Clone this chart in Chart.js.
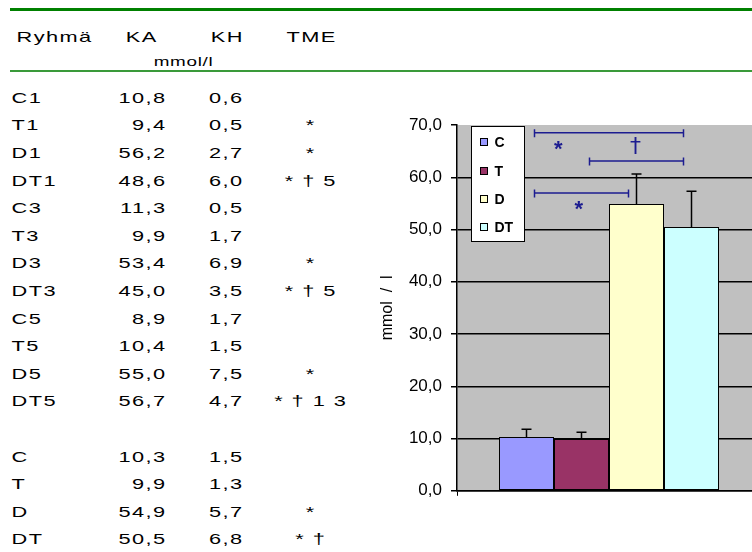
<!DOCTYPE html>
<html lang="fi">
<head>
<meta charset="UTF-8">
<title>KA ja KH ryhmittäin</title>
<script src="https://cdn.jsdelivr.net/npm/chart.js"></script>
<style>
    html, body {
        margin: 0;
        padding: 0;
        width: 752px;
        height: 552px;
        overflow: hidden;
        background: #fff;
    }
    body {
        position: relative;
        font-family: "Liberation Sans", Arial, sans-serif;
        color: #000;
    }
    .rule {
        position: absolute;
        left: 10px;
        width: 742px;
    }
    #rule1 { top: 8px; height: 3px; background: #008000; }
    #rule2 { top: 69.5px; height: 2px; background: #3a9a3a; }
    /* taulukko piirretään leveämmäksi kuin fontti on */
    #tbl {
        position: absolute;
        left: 0;
        top: 0;
        width: 260px;
        height: 552px;
        transform: scaleX(1.45);
        transform-origin: 0 0;
    }
    .cell {
        position: absolute;
        font-size: 15px;
        line-height: 20px;
        letter-spacing: 1px;
        white-space: pre;
    }
    .r { text-align: right; }
    .c { text-align: center; }
    #chart {
        position: absolute;
        left: 380px;
        top: 100px;
    }
</style>
</head>
<body>
<div class="rule" id="rule1"></div>
<div class="rule" id="rule2"></div>
<div id="tbl"></div>
<canvas id="chart" width="400" height="410"></canvas>

<script>
    // taulukon rivit
    const groups = ['C1', 'T1', 'D1', 'DT1', 'C3', 'T3', 'D3', 'DT3', 'C5', 'T5', 'D5', 'DT5'];
    const groupKA = [10.8, 9.4, 56.2, 48.6, 11.3, 9.9, 53.4, 45.0, 8.9, 10.4, 55.0, 56.7];
    const groupKH = [0.6, 0.5, 2.7, 6.0, 0.5, 1.7, 6.9, 3.5, 1.7, 1.5, 7.5, 4.7];
    const groupTME = ['', '*', '*', '* † 5', '', '', '*', '* † 5', '', '', '*', '* † 1 3'];

    // yhteenveto = pylväät
    const categories = ['C', 'T', 'D', 'DT'];
    const meanKA = [10.3, 9.9, 54.9, 50.5];
    const sdKH = [1.5, 1.3, 5.7, 6.8];
    const summaryTME = ['', '', '*', '* †'];
    const barColors = ['#9999FF', '#993366', '#FFFFCC', '#CCFFFF'];

    const yMin = 0;
    const yMax = 70;
    const yStep = 10;

    // merkitsevyyssulut: mistä pylväästä mihin, korkeus (mmol/l), merkki
    const bracketFrom = [0, 1, 0];
    const bracketTo = [3, 3, 2];
    const bracketLevel = [68.5, 63.1, 57.0];
    const bracketMark = ['*', '†', '*'];

    function fmt(v) {
        return v.toFixed(1).replace('.', ',');
    }

    // ---- taulukko ----
    const tbl = document.getElementById('tbl');
    function cell(text, left, width, top, cls, extra) {
        const d = document.createElement('div');
        d.className = 'cell' + (cls ? ' ' + cls : '');
        d.textContent = text;
        d.style.left = left + 'px';
        d.style.width = width + 'px';
        d.style.top = top + 'px';
        if (extra) Object.assign(d.style, extra);
        tbl.appendChild(d);
    }

    cell('Ryhmä', 11.4, 70, 26.5);
    cell('KA', 86.7, 40, 26.5);
    cell('KH', 145.3, 40, 26.5);
    cell('TME', 197.6, 60, 26.5);
    cell('mmol/l', 86.6, 80, 52, 'c', { fontSize: '13px', letterSpacing: '0.5px' });

    function rowTop(i) {
        return 87.8 + i * 27.6;
    }
    function addRow(i, name, ka, kh, tme) {
        const t = rowTop(i);
        cell(name, 8, 50, t);
        cell(fmt(ka), 64.9, 50, t, 'r');
        cell(fmt(kh), 118, 50, t, 'r');
        if (tme) cell(tme, 174.3, 80, t, 'c');
    }
    groups.forEach((g, i) => addRow(i, g, groupKA[i], groupKH[i], groupTME[i]));
    categories.forEach((c, i) => addRow(groups.length + 1 + i, c, meanKA[i], sdKH[i], summaryTME[i]));

    // ---- kaavio ----
    const plotBg = {
        id: 'plotBg',
        beforeDraw(chart) {
            const { ctx, chartArea: a } = chart;
            ctx.save();
            ctx.fillStyle = '#C0C0C0';
            ctx.fillRect(a.left, a.top, a.right - a.left, a.bottom - a.top);
            ctx.restore();
        }
    };

    const errorBars = {
        id: 'errorBars',
        afterDatasetsDraw(chart) {
            const ctx = chart.ctx;
            const y = chart.scales.y;
            ctx.save();
            ctx.strokeStyle = '#000';
            ctx.lineWidth = 1.5;
            chart.data.datasets.forEach((ds, i) => {
                const bar = chart.getDatasetMeta(i).data[0];
                const top = y.getPixelForValue(ds.data[0] + ds.errors[0]);
                ctx.beginPath();
                ctx.moveTo(bar.x, bar.y);
                ctx.lineTo(bar.x, top);
                ctx.moveTo(bar.x - 5, top);
                ctx.lineTo(bar.x + 5, top);
                ctx.stroke();
            });
            ctx.restore();
        }
    };

    const boxLegend = {
        id: 'boxLegend',
        afterDatasetsDraw(chart) {
            const { ctx, chartArea: a } = chart;
            const bx = a.left + 14.5, by = a.top + 1.5, w = 53, h = 115;
            ctx.save();
            ctx.fillStyle = '#fff';
            ctx.fillRect(bx, by, w, h);
            ctx.strokeStyle = '#000';
            ctx.lineWidth = 1;
            ctx.strokeRect(bx, by, w, h);
            ctx.font = 'bold 14px "Liberation Sans", Arial, sans-serif';
            ctx.textBaseline = 'middle';
            ctx.textAlign = 'left';
            chart.data.datasets.forEach((ds, i) => {
                const cy = Math.round(by + 15.7 + i * 28.4);
                ctx.fillStyle = ds.backgroundColor;
                ctx.fillRect(bx + 9, cy - 3.5, 7, 7);
                ctx.strokeRect(bx + 9, cy - 3.5, 7, 7);
                ctx.fillStyle = '#000';
                ctx.fillText(ds.label, bx + 23, cy + 1);
            });
            ctx.restore();
        }
    };

    // merkin paikka sulun pituudesta ja etäisyys viivasta
    const markAlong = [0.16, 0.49, 0.47];
    const markOffset = [10.5, -14.5, 11];

    const brackets = {
        id: 'brackets',
        afterDatasetsDraw(chart) {
            const ctx = chart.ctx;
            const y = chart.scales.y;
            ctx.save();
            ctx.strokeStyle = '#1c1c90';
            ctx.fillStyle = '#1c1c90';
            ctx.lineWidth = 1.5;
            ctx.textAlign = 'center';
            ctx.textBaseline = 'alphabetic';
            bracketLevel.forEach((lvl, k) => {
                const py = y.getPixelForValue(lvl);
                const x1 = chart.getDatasetMeta(bracketFrom[k]).data[0].x + 8;
                const x2 = chart.getDatasetMeta(bracketTo[k]).data[0].x - 8;
                ctx.beginPath();
                ctx.moveTo(x1, py);
                ctx.lineTo(x2, py);
                ctx.moveTo(x1, py - 3.5);
                ctx.lineTo(x1, py + 4.5);
                ctx.moveTo(x2, py - 3.5);
                ctx.lineTo(x2, py + 4.5);
                ctx.stroke();
                const mx = x1 + markAlong[k] * (x2 - x1);
                const my = py + markOffset[k];
                if (bracketMark[k] === '*') {
                    ctx.font = 'bold 22px "Liberation Sans", Arial, sans-serif';
                    ctx.fillText('*', mx, my + 0.56 * 22);
                } else {
                    ctx.font = '22px "DejaVu Sans", sans-serif';
                    ctx.fillText(bracketMark[k], mx, my + 0.3 * 22);
                }
            });
            ctx.restore();
        }
    };

    const fontFamily = '"Liberation Sans", Arial, sans-serif';

    new Chart(document.getElementById('chart').getContext('2d'), {
        type: 'bar',
        data: {
            labels: [''],
            datasets: categories.map((c, i) => ({
                label: c,
                data: [meanKA[i]],
                errors: [sdKH[i]],
                backgroundColor: barColors[i],
                borderColor: '#000',
                borderWidth: 1,
                borderSkipped: false
            }))
        },
        plugins: [plotBg, errorBars, boxLegend, brackets],
        options: {
            responsive: false,
            animation: false,
            devicePixelRatio: 1,
            layout: { padding: { top: 25, right: 19, left: 0, bottom: 0 } },
            datasets: {
                bar: { categoryPercentage: 0.7237, barPercentage: 1 }
            },
            plugins: {
                legend: { display: false },
                tooltip: { enabled: false }
            },
            scales: {
                x: {
                    ticks: { display: false },
                    grid: {
                        display: true,
                        drawOnChartArea: false,
                        drawTicks: true,
                        tickLength: 5,
                        tickColor: '#000',
                        offset: true
                    },
                    border: { display: true, color: '#000', width: 1.5 },
                    afterFit(s) { s.height = 18; }
                },
                y: {
                    min: yMin,
                    max: yMax,
                    ticks: {
                        stepSize: yStep,
                        padding: 9,
                        color: '#000',
                        font: { family: fontFamily, size: 17 },
                        callback: v => fmt(v)
                    },
                    grid: {
                        color: c => (c.tick && c.tick.value === yMax) ? 'rgba(0,0,0,0)' : '#000',
                        tickColor: '#000',
                        tickLength: 6,
                        lineWidth: 1.5
                    },
                    border: { color: '#000', width: 1.5 },
                    title: {
                        display: true,
                        text: 'mmol\u00a0\u00a0/\u00a0\u00a0l',
                        color: '#000',
                        font: { family: fontFamily, size: 16, lineHeight: 1 },
                        padding: 0
                    },
                    afterFit(s) { s.width = 77; }
                }
            }
        }
    });
</script>
</body>
</html>
